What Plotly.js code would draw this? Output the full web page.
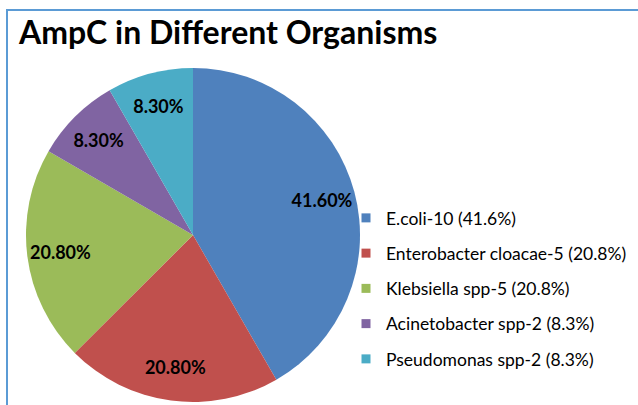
<!DOCTYPE html>
<html>
<head>
<meta charset="utf-8">
<script src="https://cdn.plot.ly/plotly-3.0.1.min.js"></script>
<style>
  html, body { margin: 0; padding: 0; background: #fff; }
  #wrap { position: relative; width: 638px; height: 405px; overflow: hidden; }
  #chart { position: absolute; left: 0; top: 0; width: 638px; height: 405px; }
  #frame { position: absolute; left: 6px; top: 9px; width: 700px; height: 500px;
           border-left: 2px solid #5b9bd5; border-top: 2px solid #5b9bd5; pointer-events: none; }
</style>
</head>
<body>
<div id="wrap">
  <div id="chart"></div>
  <div id="frame"></div>
</div>
<script>
const organisms = ["E.coli-10", "Enterobacter cloacae-5", "Klebsiella spp-5", "Acinetobacter spp-2", "Pseudomonas spp-2"];
const percents = [41.6, 20.8, 20.8, 8.3, 8.3];
const sliceLabels = ["41.60%", "20.80%", "20.80%", "8.30%", "8.30%"];
const legendLabels = ["E.coli-10 (41.6%)", "Enterobacter cloacae-5 (20.8%)", "Klebsiella spp-5 (20.8%)", "Acinetobacter spp-2 (8.3%)", "Pseudomonas spp-2 (8.3%)"];
const colors = ["#4f81bd", "#c0504d", "#9bbb59", "#8064a2", "#4bacc6"];

const FONT = "Lato, 'Open Sans', sans-serif";
const pieDomain = { x: [26 / 638, 360 / 638], y: [3 / 405, 337 / 405] };

// coloured slices
const pie = {
  type: "pie",
  labels: organisms,
  values: percents,
  textinfo: "none",
  sort: false,
  direction: "clockwise",
  rotation: 0,
  marker: { colors: colors, line: { width: 0 } },
  showlegend: false,
  hoverinfo: "label+percent",
  domain: pieDomain
};

// transparent ring carrying the data labels (places them near 0.8 R like the original)
const labelRing = {
  type: "pie",
  labels: organisms,
  values: percents,
  text: sliceLabels,
  textinfo: "text",
  textposition: "inside",
  insidetextorientation: "horizontal",
  hole: 0.6,
  sort: false,
  direction: "clockwise",
  rotation: 0,
  marker: { colors: colors.map(() => "rgba(0,0,0,0)"), line: { width: 0 } },
  textfont: { family: FONT, size: 18, color: "#000", weight: "bold" },
  showlegend: false,
  hoverinfo: "skip",
  domain: pieDomain
};

const legendTraces = organisms.map((o, i) => ({
  type: "scatter",
  mode: "markers",
  x: [null], y: [null],
  name: legendLabels[i],
  legendgroup: "g" + i,
  marker: { symbol: "square", size: 9, color: colors[i] },
  hoverinfo: "skip"
}));

const layout = {
  width: 638, height: 405,
  margin: { l: 0, r: 0, t: 0, b: 0 },
  paper_bgcolor: "#fff",
  plot_bgcolor: "rgba(0,0,0,0)",
  font: { family: FONT, color: "#000" },
  title: {
    text: "<b>AmpC in Different Organisms</b>",
    font: { family: FONT, size: 32, color: "#000" },
    x: 19 / 638, xref: "paper", xanchor: "left",
    y: 1 - 33 / 405, yref: "paper", yanchor: "middle"
  },
  xaxis: { visible: false },
  yaxis: { visible: false },
  showlegend: true,
  legend: {
    x: 346 / 638, xanchor: "left",
    y: 1 - 200 / 405, yanchor: "top",
    font: { family: FONT, size: 17.5, color: "#000" },
    itemwidth: 30,
    tracegroupgap: 9.5,
    bgcolor: "rgba(0,0,0,0)",
    traceorder: "grouped"
  }
};

Plotly.newPlot("chart", [pie, labelRing].concat(legendTraces), layout, { displayModeBar: false, staticPlot: true });
</script>
</body>
</html>
